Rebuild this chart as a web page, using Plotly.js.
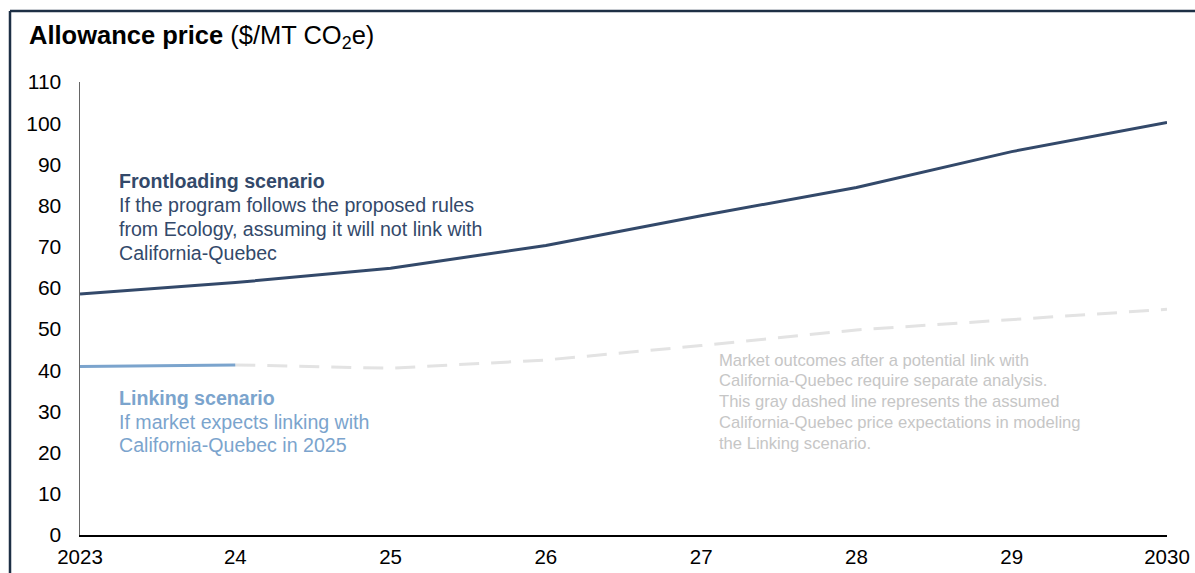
<!DOCTYPE html>
<html>
<head>
<meta charset="utf-8">
<script src="https://cdn.plot.ly/plotly-3.0.1.min.js"></script>
<style>html,body{margin:0;padding:0;background:#fff;}#chart{width:1195px;height:573px;}</style>
</head>
<body>
<div id="chart"></div>
<script>
// Data
const years = [2023, 2024, 2025, 2026, 2027, 2028, 2029, 2030];
const yearLabels = ["2023", "24", "25", "26", "27", "28", "29", "2030"];
const frontloading = [58.5, 61.3, 64.8, 70.3, 77.5, 84.4, 93.1, 100.2];
const linkingYears = [2023, 2024];
const linking = [40.9, 41.3];
const caqcYears = [2024, 2025, 2026, 2027, 2028, 2029, 2030];
const caqcExpect = [41.3, 40.5, 42.5, 46.0, 49.8, 52.3, 54.8];
const yTicks = [0, 10, 20, 30, 40, 50, 60, 70, 80, 90, 100, 110];

const frontText = ["<b>Frontloading scenario</b>", "If the program follows the proposed rules", "from Ecology, assuming it will not link with", "California-Quebec"];
const linkText = ["<b>Linking scenario</b>", "If market expects linking with", "California-Quebec in 2025"];
const noteText = ["Market outcomes after a potential link with", "California-Quebec require separate analysis.", "This gray dashed line represents the assumed", "California-Quebec price expectations in modeling", "the Linking scenario."];

const W = 1195, H = 573;
const L = 80, R = 28, T = 82, B = 38;
const pw = W - L - R, ph = H - T - B;
const px = x => (x - L) / pw;
const py = y => (H - B - y) / ph;

const font = "Liberation Sans, Arial, sans-serif";

const traces = [
  {x: caqcYears, y: caqcExpect, mode: "lines", line: {color: "#e3e3e3", width: 3, dash: "20px,12px"}, hoverinfo: "skip"},
  {x: linkingYears, y: linking, mode: "lines", line: {color: "#7ba4cd", width: 3}},
  {x: years, y: frontloading, mode: "lines", line: {color: "#33496a", width: 3}}
];

function block(lines, x0, yFirst, step, size, color) {
  return lines.map((t, i) => ({
    xref: "paper", yref: "paper", x: px(x0), y: py(yFirst + i * step),
    xanchor: "left", yanchor: "middle", align: "left", showarrow: false,
    text: t, font: {family: font, size: size, color: color}
  }));
}

const layout = {
  width: W, height: H,
  margin: {l: L, r: R, t: T, b: B, pad: 0},
  paper_bgcolor: "#fff", plot_bgcolor: "#fff",
  showlegend: false,
  font: {family: font, color: "#000"},
  title: {
    text: "<b>Allowance price</b> ($/MT CO<sub>2</sub>e)",
    font: {family: font, size: 25.5, color: "#000"},
    xref: "container", yref: "container",
    x: 29 / W, xanchor: "left",
    y: 1 - 35 / H, yanchor: "middle"
  },
  xaxis: {
    range: [2023, 2030],
    tickvals: years, ticktext: yearLabels,
    showgrid: false, zeroline: false,
    showline: true, linecolor: "#000", linewidth: 1.5,
    ticks: "", tickfont: {family: font, size: 20.5, color: "#000"},
    ticklabelstandoff: 3,
    fixedrange: true
  },
  yaxis: {
    range: [0, 110],
    tickvals: yTicks,
    showgrid: false, zeroline: false,
    showline: true, linecolor: "#666", linewidth: 1.5,
    ticks: "", tickfont: {family: font, size: 21, color: "#000"},
    ticklabelstandoff: 13,
    fixedrange: true
  },
  shapes: [
    {type: "line", xref: "paper", yref: "paper", x0: px(10), x1: px(1195), y0: py(11), y1: py(11), line: {color: "#1d2f45", width: 2.5}},
    {type: "line", xref: "paper", yref: "paper", x0: px(10), x1: px(10), y0: py(11), y1: py(575), line: {color: "#1d2f45", width: 2.5}}
  ],
  annotations: [].concat(
    block(frontText, 117, 181, 24, 19.6, "#33496a"),
    block(linkText, 117, 398, 23.5, 19.6, "#7ba4cd"),
    block(noteText, 717, 360, 20.8, 16.6, "#c6c6c6")
  )
};

Plotly.newPlot("chart", traces, layout, {displayModeBar: false, staticPlot: true});
</script>
</body>
</html>
